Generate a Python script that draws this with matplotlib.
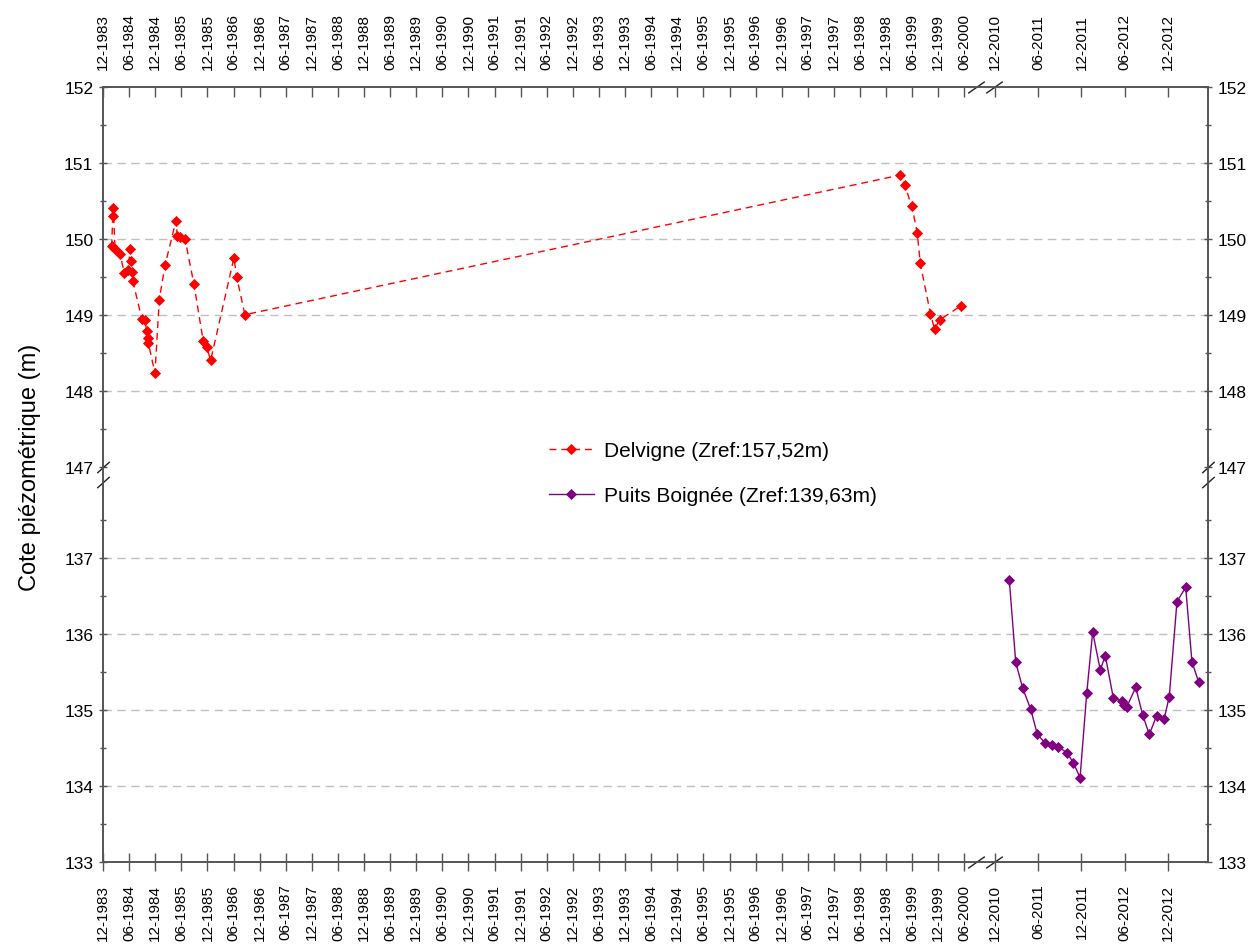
import numpy as np
import matplotlib
matplotlib.use('Agg')
import matplotlib.pyplot as plt

plt.rcParams['font.family'] = ['Liberation Sans', 'DejaVu Sans']

# dates as decimal years, levels in m
delvigne_x = [1984.083, 1984.103, 1984.114, 1984.147, 1984.242, 1984.325, 1984.401,
              1984.434, 1984.447, 1984.466, 1984.486, 1984.658, 1984.721, 1984.753,
              1984.773, 1984.784, 1984.912, 1984.995, 1985.104, 1985.314, 1985.339,
              1985.391, 1985.487, 1985.659, 1985.837, 1985.902, 1985.979, 1986.425,
              1986.476, 1986.635,
              1999.187, 1999.269, 1999.409, 1999.512, 1999.569, 1999.766, 1999.843,
              1999.939, 2000.354]
delvigne_y = [149.90, 150.30, 150.41, 149.86, 149.80, 149.55, 149.59,
              149.87, 149.71, 149.56, 149.45, 148.95, 148.93, 148.79,
              148.69, 148.63, 148.23, 149.20, 149.65, 150.24, 150.04,
              150.03, 150.00, 149.40, 148.65, 148.57, 148.40, 149.75,
              149.50, 149.00,
              150.84, 150.71, 150.43, 150.08, 149.68, 149.01, 148.81,
              148.93, 149.12]

puits_x = [2011.082, 2011.156, 2011.237, 2011.330, 2011.406, 2011.495, 2011.572,
           2011.649, 2011.746, 2011.822, 2011.900, 2011.977, 2012.046, 2012.134,
           2012.192, 2012.285, 2012.382, 2012.412, 2012.439, 2012.544, 2012.624,
           2012.701, 2012.786, 2012.874, 2012.932, 2013.021, 2013.122, 2013.194,
           2013.272]
puits_y = [136.71, 135.63, 135.29, 135.01, 134.68, 134.57, 134.54,
           134.52, 134.44, 134.31, 134.11, 135.22, 136.03, 135.53,
           135.72, 135.16, 135.12, 135.07, 135.04, 135.30, 134.94,
           134.68, 134.93, 134.89, 135.18, 136.43, 136.62, 135.64,
           135.37]

label_delvigne = 'Delvigne (Zref:157,52m)'
label_puits = 'Puits Boignée (Zref:139,63m)'

y_ticks = [133, 134, 135, 136, 137, 147, 148, 149, 150, 151, 152]
y_minor = [133.5, 134.5, 135.5, 136.5, 137.5, 147.5, 148.5, 149.5, 150.5, 151.5]
grid_vals = [134, 135, 136, 137, 148, 149, 150, 151]

tick_months = [(1983, 12)]
for yr in range(1984, 2001):
    tick_months += [(yr, 6), (yr, 12)]
tick_months = tick_months[:-1]  # stop at 06-2000
tick_months += [(2010, 12), (2011, 6), (2011, 12), (2012, 6), (2012, 12)]
x_ticks = [yr + (m - 1) / 12 for yr, m in tick_months]
x_labels = ['%02d-%d' % (m, yr) for yr, m in tick_months]

# broken axes: segment limits and their length on the page
x_breaks = [1983.917, 2000.63, 2010.9, 2013.38]
x_units = [0, 873, 891, 1105.5]
y_breaks = [133, 138, 147, 152]
y_units = [0, 380, 396, 776]


def piecewise(src, dst):
    src = np.asarray(src, float)
    dst = np.asarray(dst, float)

    def make(a, b):
        s0 = (b[1] - b[0]) / (a[1] - a[0])
        s1 = (b[-1] - b[-2]) / (a[-1] - a[-2])

        def f(v):
            v = np.asarray(v, float)
            out = np.interp(v, a, b)
            out = np.where(v < a[0], b[0] + (v - a[0]) * s0, out)
            out = np.where(v > a[-1], b[-1] + (v - a[-1]) * s1, out)
            return out
        return f
    return make(src, dst), make(dst, src)


fx, fx_inv = piecewise(x_breaks, x_units)
fy, fy_inv = piecewise(y_breaks, y_units)

axis_col = '#555555'

fig = plt.figure(figsize=(12.49, 9.45), dpi=100)
ax = fig.add_axes([103 / 1249, 1 - 863 / 945, 1105 / 1249, 775 / 945])
ax.set_xscale('function', functions=(fx, fx_inv))
ax.set_yscale('function', functions=(fy, fy_inv))

for g in grid_vals:
    ax.axhline(g, color='#c0c0c0', lw=1, ls=(0, (6, 4)), zorder=1)

l1, = ax.plot(delvigne_x, delvigne_y, color='#ff0000', lw=1, ls=(0, (5, 3.5)),
              marker='D', ms=5.2, mew=0.6, zorder=3, label=label_delvigne)
l2, = ax.plot(puits_x, puits_y, color='#800080', lw=1, ls='-',
              marker='D', ms=5.0, mew=0.6, zorder=3, label=label_puits)

ax.set_xlim(x_breaks[0], x_breaks[-1])
ax.set_ylim(y_breaks[0], y_breaks[-1])

ax.set_yticks(y_ticks)
ax.set_yticks(y_minor, minor=True)
ax.set_yticklabels([str(v) for v in y_ticks])
ax.set_xticks(x_ticks)
ax.set_xticklabels(x_labels, rotation=90)
ax.xaxis.set_minor_locator(matplotlib.ticker.NullLocator())

ax.tick_params(axis='y', which='major', direction='inout', length=6, width=1,
               color=axis_col, labelsize=12.5, pad=4, left=True, right=True,
               labelleft=True, labelright=True)
ax.tick_params(axis='y', which='minor', direction='inout', length=4, width=1,
               color=axis_col, left=True, right=True)
ax.tick_params(axis='x', which='major', direction='inout', length=13, width=1,
               color=axis_col, labelsize=11, pad=9, top=False, bottom=True)

ax2 = ax.twiny()
ax2.set_xscale('function', functions=(fx, fx_inv))
ax2.set_xlim(ax.get_xlim())
ax2.set_xticks(x_ticks)
ax2.set_xticklabels(x_labels, rotation=90)
ax2.xaxis.set_minor_locator(matplotlib.ticker.NullLocator())
ax2.tick_params(axis='x', which='major', direction='in', length=7, width=1,
                color=axis_col, labelsize=11, pad=13)

for a in (ax, ax2):
    for s in a.spines.values():
        s.set_color(axis_col)
        s.set_linewidth(1.2)

# break marks
slash_x = [(-1, -0.7), (1, 0.7)]
slash_y = [(-1, -0.9), (1, 0.9)]
for xb in (x_breaks[1], x_breaks[2]):
    for yy in (0, 1):
        ax.plot([xb], [yy], transform=ax.get_xaxis_transform(), marker=slash_x,
                ms=12, mew=1, color='#222222', ls='none', clip_on=False, zorder=5)
for yb in (y_breaks[1], y_breaks[2]):
    for xx in (0, 1):
        ax.plot([xx], [yb], transform=ax.get_yaxis_transform(), marker=slash_y,
                ms=9, mew=1, color='#222222', ls='none', clip_on=False, zorder=5)

fig.text(30 / 1249, 1 - 467 / 945, 'Cote piézométrique (m)', rotation=90,
         ha='center', va='center', fontsize=17)

fig.legend(handles=[l1, l2], loc='center', bbox_to_anchor=(713 / 1249, 1 - 474 / 945),
           frameon=False, fontsize=15, handlelength=2.15, handletextpad=0.5,
           labelspacing=1.25, numpoints=1)

fig.savefig('out.png', dpi=100)
